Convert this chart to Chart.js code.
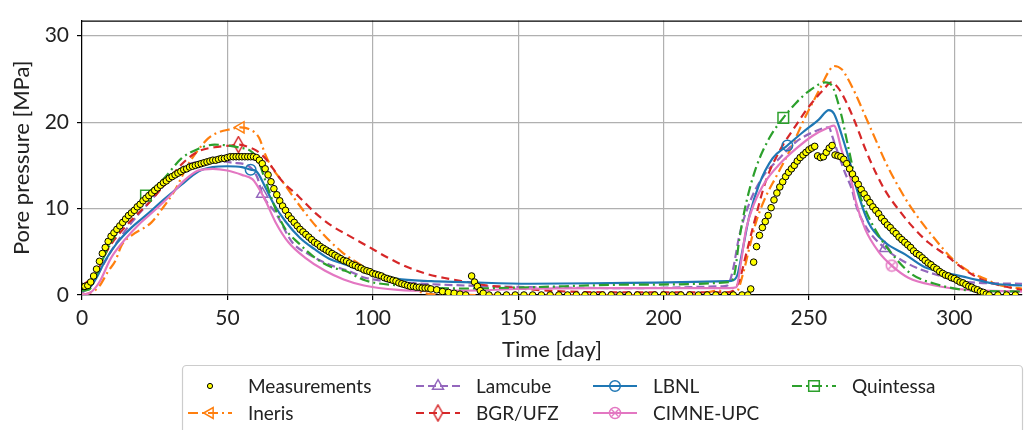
<!DOCTYPE html>
<html>
<head>
<meta charset="utf-8">
<script src="https://cdn.jsdelivr.net/npm/chart.js@4.4.1/dist/chart.umd.min.js"></script>
<style>
  html, body { margin: 0; padding: 0; background: #fff; }
  #wrap { width: 1027px; height: 430px; }
</style>
</head>
<body>
<div id="wrap"><canvas id="poreChart" width="1027" height="430"></canvas></div>
<script>
// tick labels
const dayTicks = [0, 50, 100, 150, 200, 250, 300];
const pressureTicks = [0, 10, 20, 30];

// measurements (day, MPa)
const measDay = [
  0, 1, 2, 3, 4, 5, 6, 7, 8, 9,
  10, 11, 12, 13, 14, 15, 16, 17, 18, 19,
  20, 21, 22, 23, 24, 25, 26, 27, 28, 29,
  30, 31, 32, 33, 34, 35, 36, 37, 38, 39,
  40, 41, 42, 43, 44, 45, 46, 47, 48, 49,
  50, 51, 52, 53, 54, 55, 56, 57, 58, 59,
  60, 61, 62, 63, 64, 65, 66, 67, 68, 69,
  70, 71, 72, 73, 74, 75, 76, 77, 78, 79,
  80, 81, 82, 83, 84, 85, 86, 87, 88, 89,
  90, 91, 92, 93, 94, 95, 96, 97, 98, 99,
  100, 101, 102, 103, 104, 105, 106, 107, 108, 109,
  110, 111, 112, 113, 114, 115, 116, 117, 118, 119,
  120, 122, 124, 126, 128, 130, 132, 134, 135, 136, 137, 138, 140,
  143, 146, 149, 152, 155, 158, 161, 164, 167, 170, 173, 176, 179, 182, 185,
  188, 191, 194, 197, 200, 203, 206, 209, 212, 215, 218, 221, 224, 227,
  229, 230, 231, 232, 233, 234, 235, 236, 237, 238,
  239, 240, 241, 242, 243, 244, 245, 246, 247, 248,
  249, 250, 251, 252, 253, 254, 255, 256, 257, 258,
  259, 260, 261, 262, 263, 264, 265, 266, 267, 268,
  269, 270, 271, 272, 273, 274, 275, 276, 277, 278,
  279, 280, 281, 282, 283, 284, 285, 286, 287, 288,
  289, 290, 291, 292, 293, 294, 295, 296, 297, 298,
  299, 300, 301, 302, 303, 304, 305, 306, 307, 308,
  309, 310, 311, 312, 315, 318, 321
];
const measPressure = [
  1.0, 1.0, 1.1, 1.5, 2.2, 3.0, 3.9, 4.8, 5.5, 6.2,
  6.8, 7.2, 7.6, 8.0, 8.4, 8.8, 9.2, 9.5, 9.8, 10.2,
  10.5, 10.9, 11.2, 11.5, 11.8, 12.1, 12.4, 12.7, 13.0, 13.2,
  13.5, 13.7, 13.9, 14.1, 14.3, 14.5, 14.6, 14.8, 14.9, 15.0,
  15.1, 15.2, 15.3, 15.4, 15.5, 15.6, 15.6, 15.7, 15.8, 15.8,
  15.9, 16.0, 16.0, 16.0, 16.0, 16.0, 16.0, 16.0, 16.0, 16.0,
  15.9, 15.6, 15.2, 14.6, 13.9, 13.1, 12.3, 11.6, 10.9, 10.3,
  9.8, 9.2, 8.8, 8.4, 8.0, 7.6, 7.3, 7.0, 6.7, 6.4,
  6.1, 5.9, 5.6, 5.4, 5.2, 5.0, 4.8, 4.6, 4.4, 4.2,
  4.0, 3.9, 3.7, 3.5, 3.4, 3.2, 3.1, 2.9, 2.8, 2.7,
  2.5, 2.4, 2.3, 2.2, 2.0, 1.9, 1.8, 1.7, 1.6, 1.4,
  1.3, 1.2, 1.1, 1.0, 1.0, 0.9, 0.9, 0.8, 0.8, 0.8,
  0.7, 0.6, 0.4, 0.3, 0.2, 0.1, 0.0, 2.2, 1.5, 1.0, 0.5, 0.2, 0.0,
  0, 0, 0, 0, 0, 0, 0, 0, 0, 0, 0, 0, 0, 0, 0,
  0, 0, 0, 0, 0, 0, 0, 0, 0, 0, 0, 0, 0, 0,
  0.0, 0.7, 3.8, 5.6, 6.9, 7.8, 8.5, 9.2, 10.1, 11.0,
  11.8, 12.5, 13.1, 13.7, 14.2, 14.6, 15.0, 15.5, 15.9, 16.2,
  16.5, 16.8, 17.0, 17.2, 16.1, 15.9, 16.0, 16.5, 17.0, 17.3,
  16.2, 16.1, 16.0, 15.7, 15.2, 14.6, 14.0, 13.4, 12.8, 12.2,
  11.7, 11.2, 10.7, 10.2, 9.8, 9.4, 8.9, 8.5, 8.1, 7.8,
  7.4, 7.1, 6.7, 6.4, 6.1, 5.8, 5.5, 5.1, 4.8, 4.6,
  4.3, 4.0, 3.7, 3.5, 3.2, 3.0, 2.7, 2.5, 2.3, 2.2,
  2.0, 1.9, 1.7, 1.5, 1.4, 1.2, 1.0, 0.9, 0.7, 0.6,
  0.4, 0.3, 0.1, 0.0, 0, 0, 0
];

// Ineris
const inerisDay = [0, 3, 5.7, 9.1, 11.4, 13.7, 17.1, 23.9, 27.4, 31.9,
  36.5, 40, 43.3, 46.7, 51.3, 54.6, 57.4, 60.9, 63.1, 65.4,
  68.8, 74.5, 81.4, 89.3, 97.3, 106.4, 114.4, 120, 140, 210,
  219, 222, 225, 227.3, 229.5, 231.8, 235.2, 238.6, 243.7, 248.9,
  253.4, 256.9, 258.6, 261.4, 262.6, 266, 269.4, 272.8, 276.2, 279.7,
  284.2, 288.8, 293.3, 299, 304.7, 310.4, 316, 323.3];
const inerisPressure = [0, 0.3, 0.9, 2.8, 3.9, 5.8, 6.9, 8.4, 9.9, 12.1,
  15.1, 16.8, 18.1, 18.8, 19.2, 19.4, 19.2, 18.2, 16.2, 14.7,
  13.2, 10.5, 7.6, 5.0, 3.2, 1.5, 0.55, 0.1, 0, 0,
  0.5, 0.3, 0.3, 2.4, 5.4, 8.4, 11.4, 13.6, 16.9, 20.7,
  23.6, 25.9, 26.5, 26.1, 25.5, 23.3, 20.7, 18.1, 15.5, 13.2,
  10.6, 8.4, 6.5, 4.3, 2.8, 1.9, 1.1, 0.75];
const inerisMarks = [54.6];

// Lamcube
const lamcubeDay = [0, 3, 6.8, 11.4, 17.1, 22.8, 28.5, 34.2, 40, 46,
  52, 57.4, 60.3, 62, 66.6, 72.3, 78, 86, 91.6, 97.3,
  108.7, 131.5, 154, 190, 220, 222, 223.8, 226.1, 229.5, 234,
  239.8, 245.5, 251.2, 256.9, 258, 259.1, 261.4, 262.6, 264.9, 266,
  269.4, 276.2, 284.2, 293.3, 304.7, 323.3];
const lamcubePressure = [0.3, 1.0, 3.2, 5.8, 8.4, 10.6, 12.8, 14.7, 15.4, 15.5,
  15.3, 14.9, 13.6, 11.7, 9.5, 6.1, 4.7, 3.4, 2.8, 2.0,
  1.5, 1.1, 0.9, 0.8, 1.0, 1.1, 2.8, 6.9, 10.6, 13.6,
  15.8, 17.7, 18.8, 19.4, 18.4, 17.3, 15.1, 14.0, 12.1, 10.6,
  8.0, 5.4, 3.6, 2.4, 1.5, 1.3];
const lamcubeMarks = [62, 276.2];

// BGR/UFZ
const bgrDay = [0, 4.6, 9.1, 17.1, 22.8, 28.5, 34.2, 39.9, 45.6, 51.3,
  53.8, 57.4, 60, 63.1, 68.8, 74.5, 80.2, 85.9, 91.6, 98.5,
  105.3, 112.1, 119, 125.8, 132.6, 139.5, 146.3, 160, 190, 222,
  224, 226.1, 228.4, 231.2, 235.2, 239.8, 245.5, 250, 254.6, 257.8,
  260, 262.6, 266, 269.4, 272.8, 276.2, 280.8, 285.4, 291, 296.8,
  302.5, 308.1, 313.8, 323.3];
const bgrPressure = [1.1, 2.4, 5.4, 8.7, 10.6, 12.8, 15.1, 16.6, 17.1, 17.3,
  17.4, 17.1, 16.7, 15.8, 13.2, 11.4, 9.5, 8.0, 6.9, 5.6,
  4.3, 3.2, 2.4, 1.9, 1.5, 1.1, 0.9, 0.5, 0.3, 0.3,
  0.5, 1.7, 4.7, 8.4, 13.2, 16.6, 19.6, 21.8, 23.6, 24.6,
  24.0, 22.5, 19.9, 16.9, 14.3, 12.1, 9.9, 8.0, 6.1, 4.7,
  3.2, 2.0, 1.3, 0.55];
const bgrMarks = [53.8];

// LBNL
const lbnlDay = [0, 3, 5, 8, 12, 17, 23, 28, 34, 40,
  45, 50, 55, 58, 60, 63, 66, 70, 75, 80,
  85, 90, 97, 108, 120, 131, 154, 188, 222, 224,
  225.5, 227.3, 229.5, 232.9, 237.5, 242.6, 247.8, 253.4, 256.9, 258.6,
  261.4, 264.3, 266, 270.5, 276.2, 283.1, 289.9, 296.8, 304.7, 313.8,
  323.3];
const lbnlPressure = [0.5, 1.0, 2.0, 4.0, 6.0, 7.8, 9.5, 11.0, 12.7, 14.3,
  14.8, 14.9, 14.8, 14.5, 14.3, 12.5, 10.5, 8.5, 6.6, 5.3,
  4.2, 3.6, 2.8, 1.9, 1.6, 1.5, 1.3, 1.4, 1.6, 1.7,
  2.4, 5.4, 9.1, 12.8, 15.8, 17.3, 18.8, 20.3, 21.4, 21.0,
  18.4, 15.1, 12.8, 8.4, 6.1, 4.7, 3.2, 2.6, 2.0, 1.3,
  1.1];
const lbnlMarks = [58, 242.6];

// CIMNE-UPC
const cimneDay = [0, 3, 6, 10, 15, 20, 25, 30, 35, 40,
  45, 50, 55, 58.6, 60, 63, 66.6, 71, 76.8, 83.6,
  90, 97, 108.7, 120, 131.5, 150, 180, 222.6, 225, 226.7,
  228.4, 231.2, 235.2, 239.8, 245.5, 251.2, 256.9, 258.6, 261.4, 264.9,
  266, 269.4, 274, 278.5, 284.2, 293.3, 304.7, 323.3];
const cimnePressure = [0, 0.3, 1.5, 4.3, 6.5, 8.3, 9.8, 11.4, 13.2, 14.4,
  14.6, 14.4, 13.9, 13.4, 12.8, 11.0, 8.4, 6.1, 4.3, 2.8,
  1.8, 1.1, 0.6, 0.5, 0.5, 0.7, 0.8, 0.8, 0.9, 3.9,
  7.6, 10.6, 13.2, 15.1, 16.9, 18.4, 19.4, 19.6, 16.6, 12.8,
  11.0, 7.6, 5.0, 3.4, 2.0, 1.1, 0.6, 0.4];
const cimneMarks = [278.5];

// Quintessa
const quintessaDay = [0, 2.3, 6.8, 11.4, 17.1, 22, 28.5, 34.2, 39.9, 45.6,
  50, 55, 57.4, 60.3, 63.1, 67.1, 70, 74.5, 80.2, 85.9,
  90.5, 97.3, 108.7, 131.5, 154, 190, 222.7, 224.4, 226.1, 228.4,
  231.8, 236.3, 241.2, 245.5, 250, 255.7, 258, 259.1, 261.4, 262.6,
  264.9, 266, 269.4, 274, 279.7, 285.4, 293.3, 304.7, 323.3];
const quintessaPressure = [0.5, 0.6, 3.9, 6.9, 9.3, 11.5, 13.6, 15.8, 16.9, 17.4,
  17.3, 17.0, 16.8, 15.8, 13.2, 9.5, 7.6, 6.0, 4.3, 3.2,
  2.8, 1.7, 1.1, 0.75, 0.9, 1.2, 1.5, 2.4, 6.5, 10.6,
  14.7, 18.1, 20.5, 22.2, 23.6, 24.6, 24.2, 23.3, 20.5, 18.6,
  15.0, 13.2, 9.9, 6.9, 4.3, 2.4, 1.3, 0.55, 0.4];
const quintessaMarks = [22, 241.2];

const FONT = "Lato, 'Open Sans', sans-serif";
const TEXT = "#222";

const toPoints = (days, vals) => days.map((d, i) => ({ x: d, y: vals[i] }));

const makeMarker = (w, h, draw) => {
    const c = document.createElement("canvas");
    c.width = w;
    c.height = h;
    draw(c.getContext("2d"), w, h);
    return c;
};

const diamondMarker = makeMarker(11, 18, (g, w, h) => {
    g.strokeStyle = "#d62728";
    g.lineWidth = 1.5;
    g.beginPath();
    g.moveTo(w / 2, 1);
    g.lineTo(w - 1, h / 2);
    g.lineTo(w / 2, h - 1);
    g.lineTo(1, h / 2);
    g.closePath();
    g.stroke();
});

const circleXMarker = makeMarker(14, 14, (g, w, h) => {
    g.strokeStyle = "#e377c2";
    g.lineWidth = 1.4;
    g.beginPath();
    g.arc(w / 2, h / 2, 5.5, 0, Math.PI * 2);
    g.stroke();
    g.beginPath();
    g.moveTo(3.5, 3.5); g.lineTo(10.5, 10.5);
    g.moveTo(10.5, 3.5); g.lineTo(3.5, 10.5);
    g.stroke();
});

const modelLine = (label, days, vals, marks, color, dash, pointStyle, rotation, radius) => ({
    label: label,
    data: toPoints(days, vals),
    borderColor: color,
    borderWidth: 2.2,
    borderDash: dash,
    fill: false,
    showLine: true,
    cubicInterpolationMode: "monotone",
    pointStyle: pointStyle,
    pointRotation: rotation,
    pointRadius: (ctx) => (ctx.raw && marks.includes(ctx.raw.x) ? radius : 0),
    pointBorderColor: color,
    pointBackgroundColor: "rgba(255,255,255,0)",
    pointBorderWidth: 1.5,
});

const datasets = [
    {
        label: "Measurements",
        data: toPoints(measDay, measPressure),
        showLine: false,
        pointStyle: "circle",
        pointRadius: 3.3,
        pointBackgroundColor: "#ffff00",
        pointBorderColor: "#000",
        pointBorderWidth: 1,
        order: 0,
    },
    { ...modelLine("Ineris", inerisDay, inerisPressure, inerisMarks, "#ff7f0e", [10, 4, 2, 4], "triangle", -90, 6.5), order: 7 },
    { ...modelLine("Lamcube", lamcubeDay, lamcubePressure, lamcubeMarks, "#9467bd", [8, 4], "triangle", 0, 6.5), order: 6 },
    { ...modelLine("BGR/UFZ", bgrDay, bgrPressure, bgrMarks, "#d62728", [8, 5], diamondMarker, 0, 6), order: 5 },
    { ...modelLine("LBNL", lbnlDay, lbnlPressure, lbnlMarks, "#1f77b4", [], "circle", 0, 5.3), order: 4 },
    { ...modelLine("CIMNE-UPC", cimneDay, cimnePressure, cimneMarks, "#e377c2", [], circleXMarker, 0, 6), order: 3 },
    { ...modelLine("Quintessa", quintessaDay, quintessaPressure, quintessaMarks, "#2ca02c", [10, 4, 2, 4], "rect", 0, 7.5), order: 2 },
];

// legend slots: [column, row] for each dataset, matplotlib column-major order
const legendSlots = [[0, 0], [0, 1], [1, 0], [1, 1], [2, 0], [2, 1], [3, 0]];
const legendColX = [188, 416, 593, 792];
const legendRowY = [386, 413];

const boxLegend = {
    id: "boxLegend",
    afterDraw(chart) {
        const { ctx, chartArea } = chart;
        ctx.save();
        // top spine
        ctx.strokeStyle = "#000";
        ctx.lineWidth = 1.2;
        ctx.beginPath();
        ctx.moveTo(chartArea.left, chartArea.top + 0.5);
        ctx.lineTo(chartArea.right, chartArea.top + 0.5);
        ctx.stroke();

        // legend frame
        ctx.fillStyle = "rgba(255,255,255,0.9)";
        ctx.strokeStyle = "#cccccc";
        ctx.lineWidth = 1.2;
        ctx.beginPath();
        ctx.roundRect(182.5, 365.5, 840, 70, 4);
        ctx.fill();
        ctx.stroke();

        ctx.font = "19px " + FONT;
        ctx.textBaseline = "middle";
        ctx.textAlign = "left";

        chart.data.datasets.forEach((ds, i) => {
            const [col, row] = legendSlots[i];
            const x0 = legendColX[col];
            const y = legendRowY[row];
            const mid = x0 + 22;
            if (ds.showLine) {
                ctx.strokeStyle = ds.borderColor;
                ctx.lineWidth = ds.borderWidth;
                ctx.setLineDash(ds.borderDash);
                ctx.beginPath();
                ctx.moveTo(x0, y);
                ctx.lineTo(x0 + 44, y);
                ctx.stroke();
                ctx.setLineDash([]);
                ctx.strokeStyle = ds.borderColor;
                ctx.fillStyle = "rgba(255,255,255,0)";
                ctx.lineWidth = 1.5;
                const r = ds.pointStyle === "rect" ? 7.5 : 6.3;
                Chart.helpers.drawPoint(ctx, {
                    pointStyle: ds.pointStyle,
                    rotation: ds.pointRotation,
                    radius: ds.pointStyle === "circle" ? 5.3 : r,
                    borderWidth: 1.5,
                }, mid, y);
            } else {
                ctx.fillStyle = ds.pointBackgroundColor;
                ctx.strokeStyle = ds.pointBorderColor;
                ctx.lineWidth = 1;
                ctx.beginPath();
                ctx.arc(mid, y, 2.6, 0, Math.PI * 2);
                ctx.fill();
                ctx.stroke();
            }
            ctx.fillStyle = TEXT;
            ctx.fillText(ds.label, x0 + 60, y + 1);
        });
        ctx.restore();
    },
};

new Chart(document.getElementById("poreChart"), {
    type: "scatter",
    data: { datasets: datasets },
    options: {
        responsive: false,
        animation: false,
        events: [],
        layout: { padding: { top: 9, right: 0, bottom: 0, left: 0 } },
        plugins: {
            legend: { display: false },
            tooltip: { enabled: false },
        },
        scales: {
            x: {
                type: "linear",
                min: 0,
                max: 323.3,
                afterFit: (scale) => { scale.height = 135; },
                afterBuildTicks: (scale) => { scale.ticks = dayTicks.map((v) => ({ value: v })); },
                ticks: { font: { family: FONT, size: 21 }, color: TEXT, padding: 6, maxRotation: 0 },
                grid: { color: "#b0b0b0", lineWidth: 1.2, tickLength: 5, tickColor: "#000" },
                border: { color: "#000", width: 1.2 },
                title: {
                    display: true,
                    text: "Time [day]",
                    font: { family: FONT, size: 22 },
                    color: TEXT,
                    padding: { top: 0, bottom: 66.8 },
                },
            },
            y: {
                type: "linear",
                min: 0,
                max: 31.75,
                afterFit: (scale) => { scale.width = 82; },
                afterBuildTicks: (scale) => { scale.ticks = pressureTicks.map((v) => ({ value: v })); },
                ticks: { font: { family: FONT, size: 21 }, color: TEXT, padding: 8 },
                grid: { color: "#b0b0b0", lineWidth: 1.2, tickLength: 5, tickColor: "#000" },
                border: { color: "#000", width: 1.2 },
                title: {
                    display: true,
                    text: "Pore pressure [MPa]",
                    font: { family: FONT, size: 22 },
                    color: TEXT,
                    padding: { top: 8.8, bottom: 0 },
                },
            },
        },
    },
    plugins: [boxLegend],
});
</script>
</body>
</html>
